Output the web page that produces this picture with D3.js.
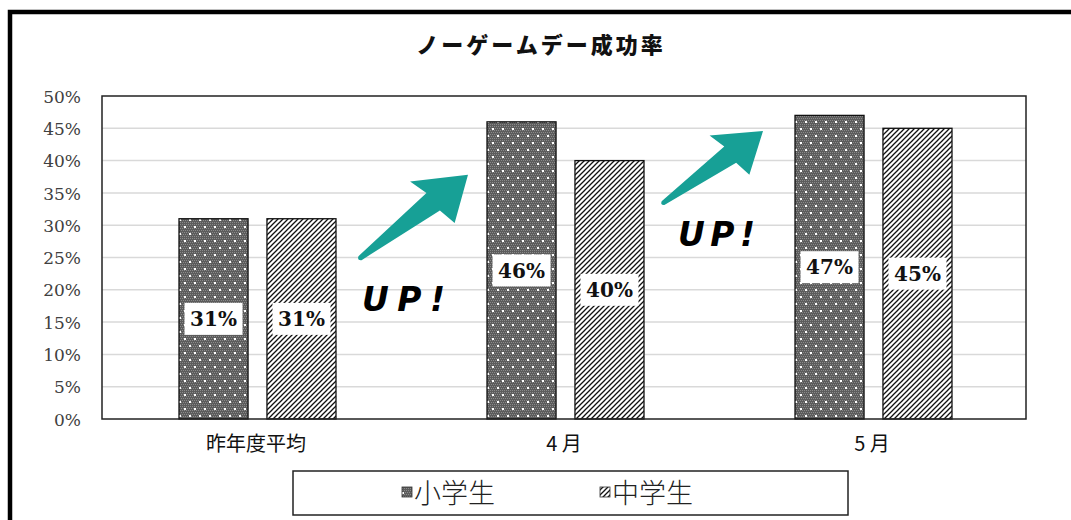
<!DOCTYPE html>
<html><head><meta charset="utf-8">
<script src="https://cdn.jsdelivr.net/npm/d3@7"></script>
<style>html,body{margin:0;padding:0;background:#fff;}svg{display:block;}</style>
</head><body><svg id="c" width="1071" height="520"></svg>
<script>
const categories = ["昨年度平均", "4 月", "5 月"];
const seriesNames = ["小学生", "中学生"];
const elementary = [31, 46, 47];
const juniorHigh = [31, 40, 45];
const yTicks = [0, 5, 10, 15, 20, 25, 30, 35, 40, 45, 50];
const chartTitle = "ノーゲームデー成功率";
// annotation arrows: tail value and tip value (in %)
const arrowNotes = [{tail: 24.9, tip: 37.8}, {tail: 33.4, tip: 44.6}];

const svg = d3.select("#c");
const defs = svg.append("defs");
// dotted pattern (小学生)
const p1 = defs.append("pattern").attr("id","dots").attr("patternUnits","userSpaceOnUse").attr("width",10).attr("height",14);
p1.append("rect").attr("width",10).attr("height",14).attr("fill","#5c5c5c");
for (let i=0;i<10;i+=2) for (let j=0;j<14;j+=2) p1.append("rect").attr("x",i+((j/2)%2)).attr("y",j).attr("width",1).attr("height",1).attr("fill","#8a8a8a");
p1.append("rect").attr("x",2).attr("y",2).attr("width",2).attr("height",2).attr("fill","#fff");
p1.append("rect").attr("x",7).attr("y",9).attr("width",2).attr("height",2).attr("fill","#fff");
// hatch pattern (中学生)
const p2 = defs.append("pattern").attr("id","hatch").attr("patternUnits","userSpaceOnUse").attr("width",5).attr("height",5);
p2.append("rect").attr("width",5).attr("height",5).attr("fill","#fff");
p2.append("path").attr("d","M-1,1 L1,-1 M0,5 L5,0 M4,6 L6,4").attr("stroke","#111").attr("stroke-width",1.3);
const fills = ["url(#dots)", "url(#hatch)"];

// outer frame
svg.append("rect").attr("x",10).attr("y",12).attr("width",1100).attr("height",600).attr("fill","none").attr("stroke","#000").attr("stroke-width",4.5);

const L=102, R=1026, T=96, B=419;
const x = d3.scaleBand().domain(categories).range([L,R]).padding(0);
const xs = d3.scaleBand().domain(seriesNames).range([77,234]).paddingInner(0.215);
const y = d3.scaleLinear().domain([0,50]).range([B,T]);

// gridlines
svg.append("g").selectAll("line").data(yTicks.filter(d=>d>0&&d<50)).join("line")
  .attr("x1",L).attr("x2",R).attr("y1",d=>y(d)).attr("y2",d=>y(d))
  .attr("stroke","#d9d9d9").attr("stroke-width",1.5);

// y axis labels
const yAxis = d3.axisLeft(y).tickValues(yTicks).tickFormat(d=>d+"%").tickSize(0).tickPadding(0);
const ga = svg.append("g").attr("transform",`translate(81,0)`).call(yAxis);
ga.select(".domain").remove();
ga.selectAll("text").attr("font-family","'DejaVu Serif', serif").attr("font-size",17).attr("fill","#404040").attr("dy","0.36em");

// x axis labels
const gx = svg.append("g").attr("transform",`translate(0,${B})`).call(d3.axisBottom(x).tickSize(0).tickPadding(0));
gx.select(".domain").remove();
gx.selectAll("text").attr("font-family","'Noto Sans CJK JP', sans-serif").attr("font-size",20).attr("fill","#111").attr("dy","1.6em");

// bars
const rows = categories.map((c,i)=>({cat:c, vals:[elementary[i], juniorHigh[i]]}));
const groups = svg.append("g").selectAll("g").data(rows).join("g").attr("transform",d=>`translate(${x(d.cat)},0)`);
const items = d=>d.vals.map((v,k)=>({v,k,s:seriesNames[k]}));
groups.selectAll("rect.bar").data(items).join("rect").attr("class","bar")
  .attr("x",d=>xs(d.s)).attr("width",xs.bandwidth())
  .attr("y",d=>y(d.v)).attr("height",d=>B-y(d.v))
  .attr("fill",d=>fills[d.k]).attr("stroke","#111").attr("stroke-width",1.3);
// labels
const lab = groups.selectAll("g.lab").data(items).join("g").attr("class","lab")
  .attr("transform",d=>`translate(${xs(d.s)+xs.bandwidth()/2},${(y(d.v)+B)/2})`);
lab.append("rect").attr("x",-29).attr("y",-16).attr("width",58).attr("height",32).attr("fill","#fff");
lab.append("text").attr("text-anchor","middle").attr("dy","0.36em")
  .attr("font-family","'DejaVu Serif', serif").attr("font-weight","bold").attr("font-size",20).attr("fill","#111")
  .text(d=>d.v+"%");

// plot border
svg.append("rect").attr("x",L).attr("y",T).attr("width",R-L).attr("height",B-T).attr("fill","none").attr("stroke","#222").attr("stroke-width",1.5);

// title
svg.append("text").attr("x",541).attr("y",53).attr("text-anchor","middle")
  .attr("font-family","'Noto Sans CJK JP', sans-serif").attr("font-weight","900").attr("font-size",22).attr("letter-spacing",3)
  .attr("fill","#111").text(chartTitle);

// arrows
function arrowPath(len, s){
  const w0=2.5*s, w1=11*s, hb=44*s, hw=30*s;
  return `M0,${-w0} L${len-hb},${-w1} L${len-hb-6*s},${-hw} L${len},0 L${len-hb+4*s},${hw} L${len-hb},${w1} L0,${w0} Q${-4*s},0 0,${-w0} Z`;
}
const arrowGeo = [{tx:360, tip:468, s:1, upx:362, upy:311, w:83}, {tx:663, tip:763, s:0.92, upx:678, upy:246, w:77}];
arrowNotes.forEach((a,i)=>{
  const g = arrowGeo[i];
  const x0 = g.tx, y0 = y(a.tail), x1 = g.tip, y1 = y(a.tip);
  const len = Math.hypot(x1-x0,y1-y0), ang = Math.atan2(y1-y0,x1-x0)*180/Math.PI;
  svg.append("path").attr("d",arrowPath(len,g.s)).attr("fill","#17a096")
    .attr("transform",`translate(${x0},${y0}) rotate(${ang})`);
  svg.append("text").attr("x",g.upx).attr("y",g.upy).attr("font-family","'DejaVu Sans', sans-serif")
    .attr("font-weight","bold").attr("font-style","italic").attr("font-size",33).attr("fill","#000")
    .attr("textLength",g.w).attr("lengthAdjust","spacing").text("U P !");
});

// legend
svg.append("rect").attr("x",293).attr("y",471).attr("width",555).attr("height",44).attr("fill","#fff").attr("stroke","#222").attr("stroke-width",1.5);
const legX = [402, 600];
seriesNames.forEach((n,i)=>{
  svg.append("rect").attr("x",legX[i]).attr("y",487).attr("width",10).attr("height",10).attr("fill",fills[i]).attr("stroke","#333").attr("stroke-width",0.8);
  svg.append("text").attr("x",legX[i]+12).attr("y",503).attr("font-family","'Noto Sans CJK JP', sans-serif").attr("font-weight","300").attr("font-size",27).attr("fill","#222").text(n);
});
</script></body></html>
